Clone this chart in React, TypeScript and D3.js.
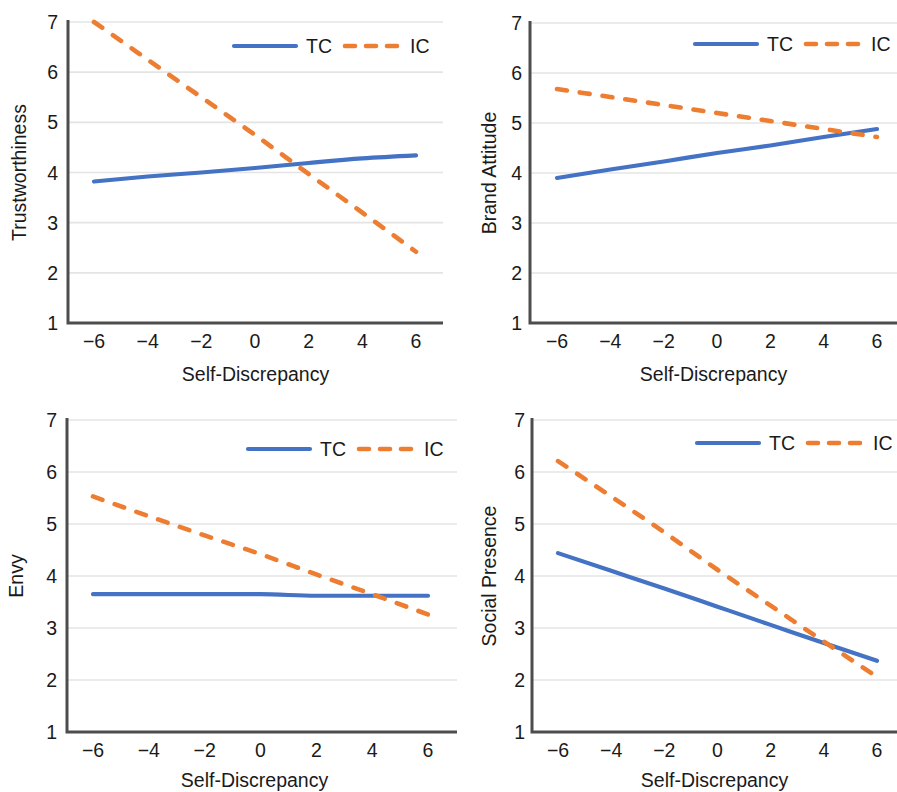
import React from "react";
import * as d3 from "d3";

const xValues = [-6, -4, -2, 0, 2, 4, 6];
const xTicks = [-6, -4, -2, 0, 2, 4, 6];
const yTicks = [1, 2, 3, 4, 5, 6, 7];
const seriesNames = ["TC", "IC"];
const xAxisTitle = "Self-Discrepancy";

const trustTC = [3.82, 3.92, 4.0, 4.09, 4.19, 4.28, 4.34];
const trustIC = [7.0, 6.25, 5.5, 4.75, 3.97, 3.2, 2.42];
const brandTC = [3.9, 4.07, 4.23, 4.4, 4.55, 4.72, 4.88];
const brandIC = [5.68, 5.52, 5.36, 5.2, 5.04, 4.88, 4.72];
const envyTC = [3.65, 3.65, 3.65, 3.65, 3.62, 3.62, 3.62];
const envyIC = [5.53, 5.15, 4.78, 4.42, 4.03, 3.65, 3.26];
const socialTC = [4.44, 4.1, 3.76, 3.41, 3.06, 2.71, 2.37];
const socialIC = [6.21, 5.53, 4.84, 4.12, 3.43, 2.74, 2.06];

const BLUE = "#4472C4";
const ORANGE = "#ED7D31";
const FONT = "'Liberation Sans', Arial, Helvetica, sans-serif";

type PanelCfg = {
  title: string;
  tc: number[];
  ic: number[];
  axisX: number;
  xm6: number;
  x6: number;
  right: number;
  y7: number;
  y1: number;
  tickGap: number;
  yLabelX: number;
  xTickBase: number;
  xTitleBase: number;
  legY: number;
  legX: number;
};

const panels: PanelCfg[] = [
  { title: "Trustworthiness", tc: trustTC, ic: trustIC, axisX: 68, xm6: 94, x6: 416, right: 443, y7: 22, y1: 323, tickGap: 10, yLabelX: 26, xTickBase: 348, xTitleBase: 381, legY: 46, legX: 234 },
  { title: "Brand Attitude", tc: brandTC, ic: brandIC, axisX: 530, xm6: 557, x6: 877, right: 897, y7: 23, y1: 323, tickGap: 8, yLabelX: 496, xTickBase: 348, xTitleBase: 381, legY: 44, legX: 695 },
  { title: "Envy", tc: envyTC, ic: envyIC, axisX: 67, xm6: 93, x6: 428, right: 457, y7: 420, y1: 732, tickGap: 10, yLabelX: 23, xTickBase: 757, xTitleBase: 787, legY: 449, legX: 248 },
  { title: "Social Presence", tc: socialTC, ic: socialIC, axisX: 532, xm6: 558, x6: 877, right: 897, y7: 420, y1: 732, tickGap: 7, yLabelX: 496, xTickBase: 757, xTitleBase: 787, legY: 443, legX: 697 },
];

function Panel({ p }: { p: PanelCfg }) {
  const x = d3.scaleLinear().domain([-6, 6]).range([p.xm6, p.x6]);
  const y = d3.scaleLinear().domain([1, 7]).range([p.y1, p.y7]);
  const line = d3
    .line<number>()
    .x((_, i) => x(xValues[i]))
    .y((d) => y(d))
    .curve(d3.curveMonotoneX);
  const fmt = (v: number) => (v < 0 ? "\u2212" + Math.abs(v) : String(v));
  const cx = (p.axisX + Math.min(p.right, p.axisX + 375)) / 2;
  return (
    <g>
      {yTicks.map((t) => (
        <line key={"g" + t} x1={p.axisX} x2={p.right} y1={y(t)} y2={y(t)} stroke="#e4e4e4" strokeWidth={1.6} />
      ))}
      <path d={`M${p.axisX},${p.y7 - 2}V${p.y1}H${p.right}`} fill="none" stroke="#4d4d4d" strokeWidth={3} />
      {yTicks.map((t) => (
        <text key={"yt" + t} x={p.axisX - p.tickGap} y={y(t)} dy="0.36em" textAnchor="end" fontSize={19.5} fill="#1a1a1a">
          {t}
        </text>
      ))}
      {xTicks.map((t) => (
        <text key={"xt" + t} x={x(t)} y={p.xTickBase} textAnchor="middle" fontSize={19.5} fill="#1a1a1a">
          {fmt(t)}
        </text>
      ))}
      <text x={cx} y={p.xTitleBase} textAnchor="middle" fontSize={19.5} fill="#1a1a1a">
        {xAxisTitle}
      </text>
      <text
        transform={`translate(${p.yLabelX},${(p.y7 + p.y1) / 2}) rotate(-90)`}
        textAnchor="middle"
        fontSize={19.5}
        fill="#1a1a1a"
      >
        {p.title}
      </text>
      <path d={line(p.tc) || ""} fill="none" stroke={BLUE} strokeWidth={4.2} strokeLinecap="round" />
      <path d={line(p.ic) || ""} fill="none" stroke={ORANGE} strokeWidth={4.6} strokeLinecap="round" strokeDasharray="10,13" />
      <g>
        <line x1={p.legX} x2={p.legX + 62} y1={p.legY} y2={p.legY} stroke={BLUE} strokeWidth={4.2} strokeLinecap="round" />
        <text x={p.legX + 72} y={p.legY} dy="0.36em" fontSize={19.5} fill="#1a1a1a">
          {seriesNames[0]}
        </text>
        <line x1={p.legX + 111} x2={p.legX + 167} y1={p.legY} y2={p.legY} stroke={ORANGE} strokeWidth={4.6} strokeLinecap="round" strokeDasharray="10,11" />
        <text x={p.legX + 176} y={p.legY} dy="0.36em" fontSize={19.5} fill="#1a1a1a">
          {seriesNames[1]}
        </text>
      </g>
    </g>
  );
}

export default function App() {
  return (
    <svg
      width={897}
      height={792}
      style={{ position: "absolute", left: 0, top: 0, background: "#fff", fontFamily: FONT }}
    >
      <rect width={897} height={792} fill="#fff" />
      {panels.map((p, i) => (
        <Panel key={i} p={p} />
      ))}
    </svg>
  );
}
